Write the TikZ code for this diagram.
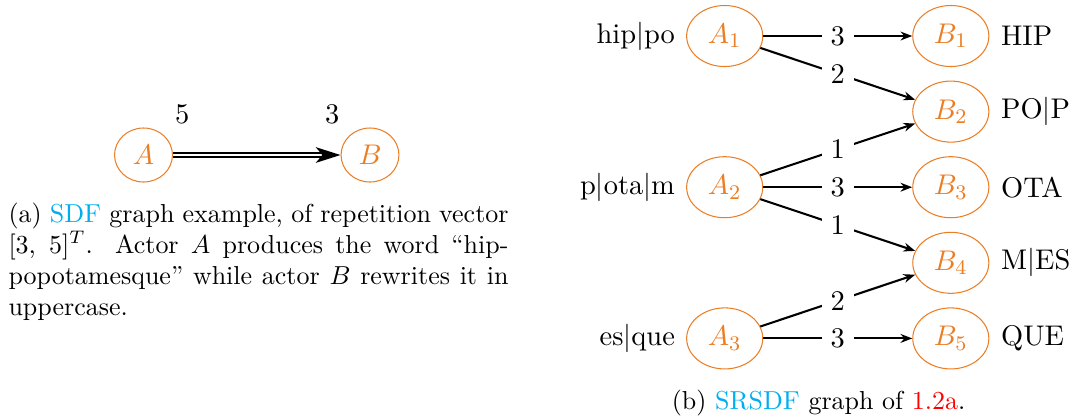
\documentclass[tikz,border=0pt]{standalone}
\usepackage{xcolor}
\usepackage{tikz}
\usetikzlibrary{positioning, arrows.meta, shapes.geometric}
\definecolor{actorcol}{RGB}{235,125,35}
\definecolor{acrocol}{RGB}{0,174,239}

\begin{document}
\begin{tikzpicture}[
    x=0.385pt, y=-0.385pt,
    font=\fontsize{10.95}{13.6}\selectfont,
    actor/.style={ellipse, draw=actorcol, text=actorcol, inner sep=1pt},
    small actor/.style={actor, minimum width=22.3pt, minimum height=20.8pt},
    split actor/.style={actor, minimum width=29.3pt, minimum height=23.5pt},
    arr/.style={-{Stealth[length=4.5pt, width=3.4pt]}, thick},
    dblarr/.style={-{Stealth[length=9.5pt, width=6pt, inset=2.5pt]}, double, line width=0.7pt, double distance=0.6pt},
    rate/.style={fill=white, inner sep=3.33pt},
    word/.style={inner sep=3.33pt},
    captxt/.style={inner sep=0pt, font=\fontsize{10}{12}\selectfont}
]
\useasboundingbox (0,0) rectangle (1077,418);
% (a) the SDF graph on the left
\node[small actor] (A) at (143.5, 155) {$A$};
\node[small actor] (B) at (370, 155) {$B$};
\draw[dblarr] (A) -- node[pos=0.055, above=8.2pt, inner sep=3.33pt] (prodA) {5} node[pos=0.95, above=8.2pt, inner sep=3.33pt] (consB) {3} (B);
\node[captxt, text width=192.5pt, align=justify, anchor=north west] (capa) at (8, 202.2) {\noindent(a) \textcolor{acrocol}{SDF} graph example, of repetition vector\linebreak{}[3, 5]$^T$. Actor $A$ produces the word ``hip-\linebreak popotamesque'' while actor $B$ rewrites it in\linebreak uppercase.};
% (b) split actors A_i on the left column
\node[split actor] (A1) at (724.7, 36) {$A_1$};
\node[split actor] (A2) at (724.7, 187.2) {$A_2$};
\node[split actor] (A3) at (724.7, 338.4) {$A_3$};
\node[word, left=0.8pt of A1] (wA1) {hip$|$po};
\node[word, left=0.8pt of A2] (wA2) {p$|$ota$|$m};
\node[word, left=0.8pt of A3] (wA3) {es$|$que};
% split actors B_j on the right column
\node[split actor] (B1) at (950.8, 36) {$B_1$};
\node[split actor] (B2) at (950.8, 111.6) {$B_2$};
\node[split actor] (B3) at (950.8, 187.2) {$B_3$};
\node[split actor] (B4) at (950.8, 262.8) {$B_4$};
\node[split actor] (B5) at (950.8, 338.4) {$B_5$};
\node[word, right=1pt of B1] (wB1) {HIP};
\node[word, right=1pt of B2] (wB2) {PO$|$P};
\node[word, right=1pt of B3] (wB3) {OTA};
\node[word, right=1pt of B4] (wB4) {M$|$ES};
\node[word, right=1pt of B5] (wB5) {QUE};
% channels with their rates
\draw[arr] (A1) -- node[rate] {3} (B1);
\draw[arr] (A1) -- node[rate] {2} (B2);
\draw[arr] (A2) -- node[rate] {1} (B2);
\draw[arr] (A2) -- node[rate] {3} (B3);
\draw[arr] (A2) -- node[rate] {1} (B4);
\draw[arr] (A3) -- node[rate] {2} (B4);
\draw[arr] (A3) -- node[rate] {3} (B5);
\node[captxt, anchor=base] (capb) at (818.5, 409.5) {(b) \textcolor{acrocol}{SRSDF} graph of \textcolor{red}{1.2a}.};
\end{tikzpicture}
\end{document}
